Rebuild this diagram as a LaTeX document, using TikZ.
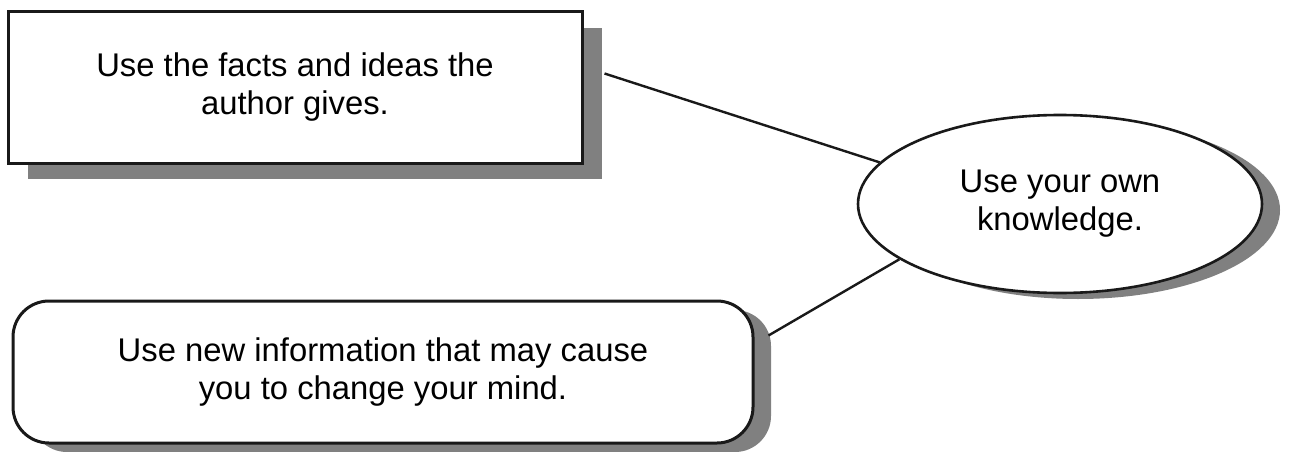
\documentclass[tikz,border=0pt]{standalone}
\usepackage{fontspec}
\setmainfont{Liberation Sans}
\usetikzlibrary{shapes.geometric,shadows,calc}
\definecolor{shadowgray}{gray}{0.5}
\tikzset{
  boxtext/.style={font=\fontsize{32.8}{38}\selectfont, align=center, text=black},
  sqbox/.style={boxtext, draw=black!90, line width=3pt, fill=white, rectangle,
    general shadow={fill=shadowgray, shadow xshift=20pt, shadow yshift=-16pt}},
  rndbox/.style={boxtext, draw=black!90, line width=3pt, fill=white, rectangle, rounded corners=36pt,
    general shadow={fill=shadowgray, shadow xshift=18pt, shadow yshift=-9pt}},
  ovalbox/.style={boxtext, draw=black!90, line width=2.6pt, fill=white, ellipse, inner sep=0pt,
    general shadow={fill=shadowgray, shadow xshift=18pt, shadow yshift=-6pt}},
  link/.style={draw=black!90, line width=2.4pt}
}
\begin{document}
\begin{tikzpicture}[x=1pt,y=-1pt]
\useasboundingbox (0,0) rectangle (1298,452);
\node[sqbox, minimum width=574pt, minimum height=151pt] (facts) at (295,87.5)
  {Use the facts and ideas the\\author gives.};
\node[ovalbox, minimum width=404pt, minimum height=178pt] (own) at (1060,204)
  {Use your own\\knowledge.};
\node[rndbox, minimum width=740pt, minimum height=142pt] (newinfo) at (383,372)
  {Use new information that may cause\\you to change your mind.};
\coordinate (a1) at ($(facts.north east)+(21,63)$);
\coordinate (b1) at ($(newinfo.north east)+(14,36)$);
\draw[link] (a1) -- (own.167);
\draw[link] (b1) -- (own.199);
\end{tikzpicture}
\end{document}
